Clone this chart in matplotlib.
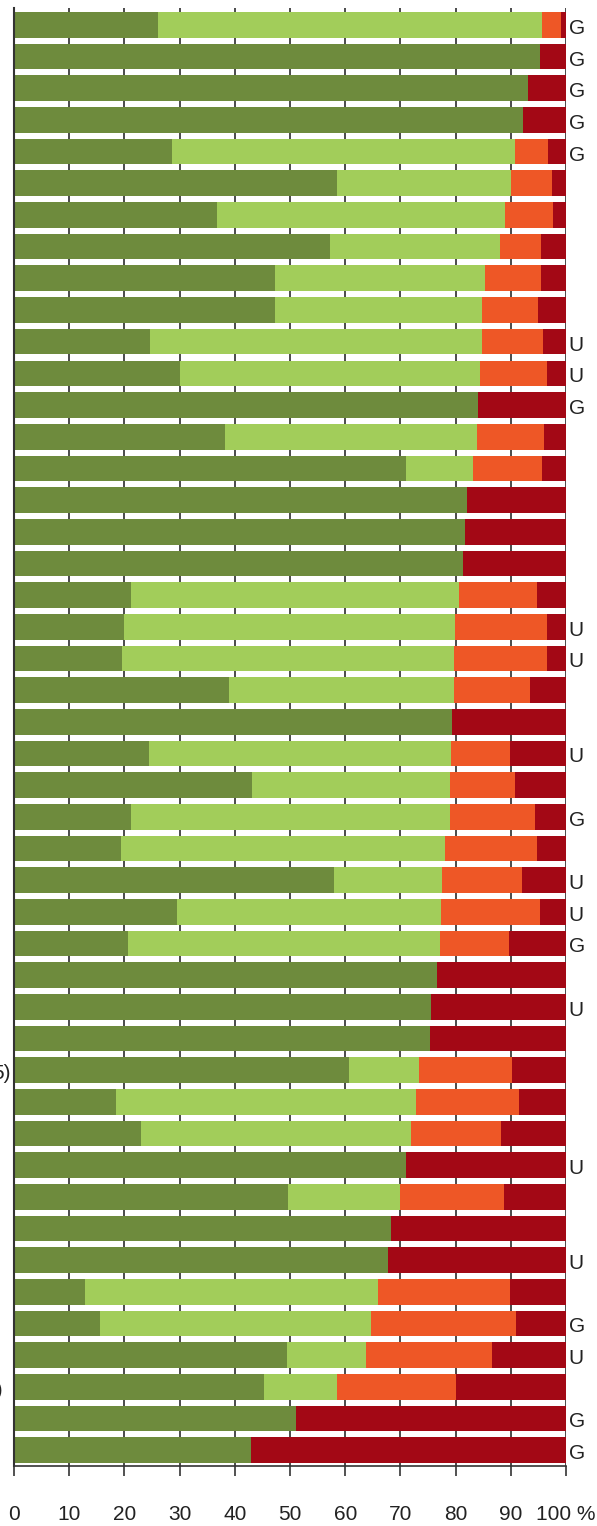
import matplotlib
matplotlib.use('Agg')
from matplotlib import pyplot
import numpy

pyplot.rcParams['font.family'] = ['Liberation Sans', 'DejaVu Sans']

# shares per row, top to bottom (percent)
veryGood = [26.0, 95.2, 93.1, 92.3, 28.7, 58.5, 36.7, 57.3, 47.3, 47.3,
            24.7, 30.0, 84.0, 38.3, 71.0, 82.0, 81.7, 81.3, 21.2, 20.0,
            19.6, 39.0, 79.4, 24.4, 43.1, 21.2, 19.4, 58.0, 29.6, 20.7,
            76.6, 75.5, 75.3, 60.6, 18.4, 23.0, 71.1, 49.7, 68.3, 67.8,
            12.8, 15.6, 49.5, 45.3, 51.1, 43.0]
good = [69.7, 0, 0, 0, 62.1, 31.6, 52.2, 30.7, 38.1, 37.5,
        60.1, 54.5, 0, 45.5, 12.1, 0, 0, 0, 59.4, 59.9,
        60.1, 40.7, 0, 54.8, 35.9, 57.8, 58.6, 19.5, 47.7, 56.4,
        0, 0, 0, 12.7, 54.5, 48.9, 0, 20.3, 0, 0,
        53.2, 49.0, 14.3, 13.2, 0, 0]
poor = [3.4, 0, 0, 0, 6.0, 7.4, 8.8, 7.4, 10.0, 10.2,
        11.1, 12.1, 0, 12.3, 12.6, 0, 0, 0, 14.1, 16.7,
        16.9, 13.8, 0, 10.6, 11.8, 15.3, 16.7, 14.6, 17.9, 12.5,
        0, 0, 0, 17.0, 18.5, 16.3, 0, 18.7, 0, 0,
        23.8, 26.4, 22.8, 21.6, 0, 0]
bad = [0.9, 4.8, 6.9, 7.7, 3.2, 2.5, 2.3, 4.6, 4.6, 5.0,
       4.1, 3.4, 16.0, 3.9, 4.3, 18.0, 18.3, 18.7, 5.3, 3.4,
       3.4, 6.5, 20.6, 10.2, 9.2, 5.7, 5.3, 7.9, 4.8, 10.4,
       23.4, 24.5, 24.7, 9.7, 8.6, 11.8, 28.9, 11.3, 31.7, 32.2,
       10.2, 9.0, 13.4, 19.9, 48.9, 57.0]
flags = ['G', 'G', 'G', 'G', 'G', '', '', '', '', '',
         'U', 'U', 'G', '', '', '', '', '', '', 'U',
         'U', '', '', 'U', '', 'G', '', 'U', 'U', 'G',
         '', 'U', '', '', '', '', 'U', '', '', 'U',
         '', 'G', 'U', '', 'G', 'G']
# long row labels run off the left edge; only their ends show
leftLabels = {33: ('5)', 3), 43: ('0)', 11)}
tickValues = list(range(0, 101, 10))
tickLabels = ['0', '10', '20', '30', '40', '50', '60', '70', '80', '90', '100 %']

colors = ['#6e8b3d', '#a2cd5a', '#ee5726', '#a30815']

figure = pyplot.figure(figsize=(5.97, 15.26), dpi=100)
axes = figure.add_axes([14/597, 1 - 1466/1526, 552/597, 1458/1526])

rows = numpy.arange(len(veryGood))
left = numpy.zeros(len(rows))
for values, color in zip([veryGood, good, poor, bad], colors):
    values = numpy.array(values)
    axes.barh(rows, values, left=left, height=0.81, color=color, linewidth=0, zorder=3)
    left = left + values

for x in tickValues[1:]:
    axes.axvline(x, color='#1a1a1a', linewidth=1.1, zorder=1)

for row, flag in enumerate(flags):
    if flag:
        axes.annotate(flag, xy=(1, row), xycoords=('axes fraction', 'data'),
                      xytext=(2, -2.5), textcoords='offset points',
                      ha='left', va='center', fontsize=15, color='#222222')

for row, (text, shift) in leftLabels.items():
    axes.annotate(text, xy=(0, row), xycoords=('axes fraction', 'data'),
                  xytext=(-shift/1.389, -2.5), textcoords='offset points',
                  ha='right', va='center', fontsize=15, color='#222222',
                  annotation_clip=False)

axes.set_xlim(0, 100)
axes.set_ylim(45.5, -0.535)
axes.set_xticks(tickValues)
axes.set_xticklabels(tickLabels, fontsize=15, color='#222222')
axes.set_yticks([])
axes.tick_params(axis='x', length=7, width=1.1, pad=21, color='#222222')
for side in ['top', 'right']:
    axes.spines[side].set_visible(False)
axes.spines['left'].set_color('#333333')
axes.spines['left'].set_linewidth(1.5)
axes.spines['bottom'].set_color('#333333')
axes.spines['bottom'].set_linewidth(1.2)
axes.spines['left'].set_zorder(4)

figure.savefig('out.png', dpi=100)
